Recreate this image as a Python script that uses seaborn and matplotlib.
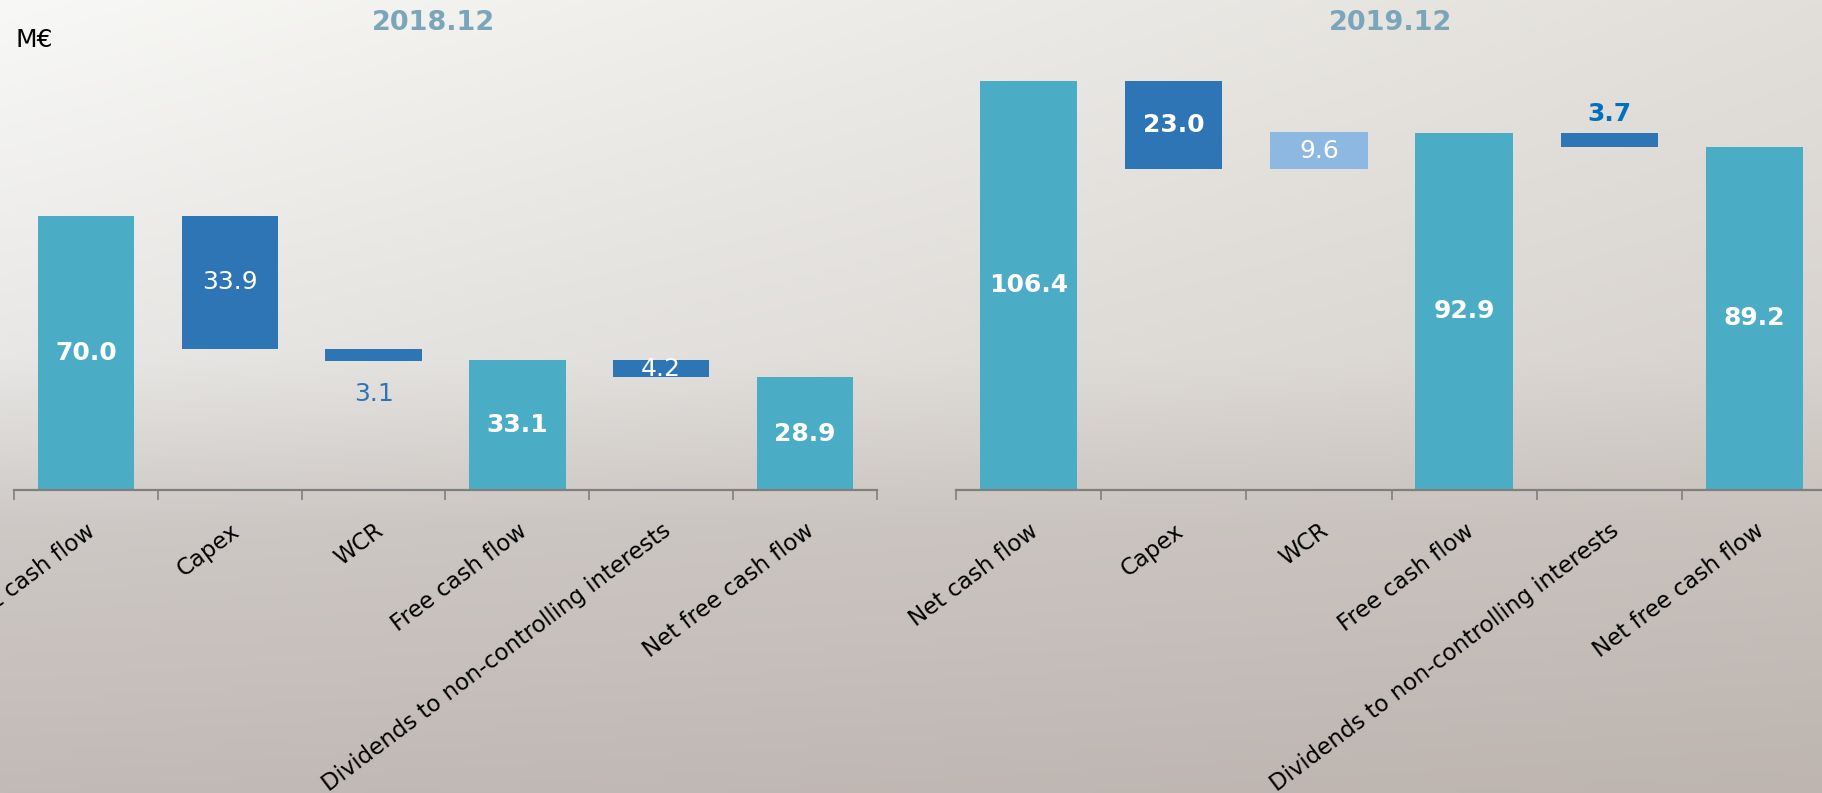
import numpy as np
import pandas as pd
import matplotlib
matplotlib.use("Agg")
import matplotlib.pyplot as plt
import seaborn as sns

sns.set_style("white")
plt.rcParams['font.family'] = ['DejaVu Sans']

# ---- data ----
categories = ["Net cash flow", "Capex", "WCR", "Free cash flow",
              "Dividends to non-controlling interests", "Net free cash flow"]
periods = ["2018.12", "2019.12"]
values_2018 = [70.0, -33.9, -3.1, 33.1, -4.2, 28.9]
values_2019 = [106.4, -23.0, 9.6, 92.9, -3.7, 89.2]
is_total = [True, False, False, True, False, True]

# ---- styles ----
TEAL = "#4BACC6"
DARK = "#2E75B6"
LIGHT = "#8DB8E2"
TITLE_C = "#7AA5BA"
bar_colors = {
    "2018.12": [TEAL, DARK, DARK, TEAL, DARK, TEAL],
    "2019.12": [TEAL, DARK, LIGHT, TEAL, DARK, TEAL],
}
# label placement, colour, weight for each bar
label_styles = {
    "2018.12": [("c", "white", "bold"), ("c", "white", "normal"), ("below", "#2E75B6", "normal"),
                ("c", "white", "bold"), ("c", "white", "normal"), ("c", "white", "bold")],
    "2019.12": [("c", "white", "bold"), ("c", "white", "bold"), ("c", "white", "normal"),
                ("c", "white", "bold"), ("above", "#0070C0", "bold"), ("c", "white", "bold")],
}


def waterfall(values, totals):
    bottoms, heights = [], []
    level = 0.0
    for v, t in zip(values, totals):
        if t:
            bottoms.append(0.0)
            heights.append(v)
            level = v
        else:
            new = level + v
            bottoms.append(min(level, new))
            heights.append(abs(v))
            level = new
    return bottoms, heights


W, H = 1822, 793
fig = plt.figure(figsize=(W / 100, H / 100), dpi=100)

# background gradient (photo-like grey backdrop)
ny, nx = 200, 400
yy = np.linspace(0, 1, ny)[:, None]
xx = np.linspace(0, 1, nx)[None, :]
stops = [0.0, 0.45, 0.66, 1.0]
left_cols = np.array([[248, 248, 246], [232, 231, 229], [206, 201, 198], [194, 186, 183]]) / 255
right_cols = np.array([[226, 223, 218], [216, 211, 206], [200, 193, 188], [190, 181, 176]]) / 255
lc = np.stack([np.interp(yy[:, 0], stops, left_cols[:, k]) for k in range(3)], axis=-1)
rc = np.stack([np.interp(yy[:, 0], stops, right_cols[:, k]) for k in range(3)], axis=-1)
t = xx[..., None]
grad = lc[:, None, :] * (1 - t) + rc[:, None, :] * t
bg = fig.add_axes([0, 0, 1, 1], zorder=-5)
bg.imshow(grad, aspect="auto", extent=[0, 1, 0, 1], origin="upper")
bg.axis("off")

axes_rects = {
    "2018.12": [14 / W, 0.382, 863 / W, 0.589],
    "2019.12": [956 / W, 0.382, 871 / W, 0.589],
}
ylims = {"2018.12": 119.3, "2019.12": 121.4}
title_x = {"2018.12": 433 / W, "2019.12": 1391 / W}
data = {"2018.12": values_2018, "2019.12": values_2019}

for per in periods:
    vals = data[per]
    bottoms, heights = waterfall(vals, is_total)
    df = pd.DataFrame({"category": categories, "height": heights, "bottom": bottoms})
    ax = fig.add_axes(axes_rects[per])
    ax.patch.set_visible(False)
    sns.barplot(data=df, x="category", y="height", bottom=df["bottom"].values,
                width=0.67, color=TEAL, saturation=1, errorbar=None,
                linewidth=0, ax=ax)
    for p, c in zip(ax.patches, bar_colors[per]):
        p.set_facecolor(c)
        p.set_edgecolor("none")

    ax.set_ylim(0, ylims[per])
    ax.set_xlim(-0.5, len(categories) - 0.5)
    ax.set_xlabel("")
    ax.set_ylabel("")
    ax.set_yticks([])
    for s in ["top", "right", "left"]:
        ax.spines[s].set_visible(False)
    ax.spines["bottom"].set_color("#7f7f7f")
    ax.spines["bottom"].set_linewidth(1.6)
    ax.set_xticks(range(len(categories)))
    ax.set_xticklabels(categories, rotation=37, ha="right", rotation_mode="anchor",
                       fontsize=16.5, color="black")
    ax.set_xticks(np.arange(-0.5, len(categories), 1.0), minor=True)
    ax.tick_params(axis="x", which="major", length=0, pad=21)
    ax.tick_params(axis="x", which="minor", length=7, width=1.2, color="#7f7f7f",
                   direction="out", bottom=True)

    for i, (v, b, h) in enumerate(zip(vals, bottoms, heights)):
        pos, col, wt = label_styles[per][i]
        txt = f"{abs(v):.1f}"
        if pos == "c":
            ax.text(i, b + h / 2, txt, ha="center", va="center", color=col,
                    fontsize=18, fontweight=wt)
        elif pos == "below":
            ax.annotate(txt, xy=(i, b), xytext=(0, -24), textcoords="offset points",
                        ha="center", va="center", color=col, fontsize=18, fontweight=wt)
        else:
            ax.annotate(txt, xy=(i, b + h), xytext=(0, 13.5), textcoords="offset points",
                        ha="center", va="center", color=col, fontsize=18, fontweight=wt)

    fig.text(title_x[per], 1 - 23 / H, per, ha="center", va="center",
             fontsize=19.5, fontweight="bold", color=TITLE_C)

fig.text(15 / W, 1 - 40 / H, "M€", ha="left", va="center", fontsize=18, color="black")

fig.savefig("out.png", dpi=100)
